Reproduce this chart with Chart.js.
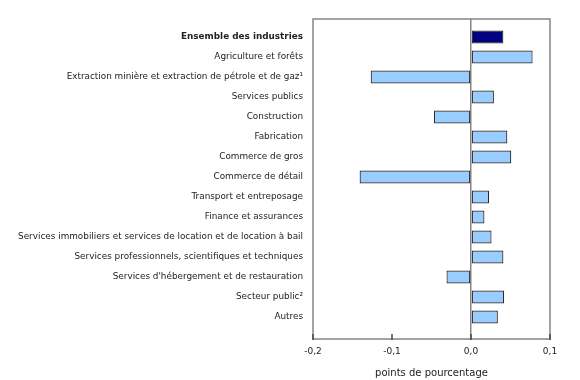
<!DOCTYPE html>
<html>
<head>
<meta charset="utf-8">
<script src="https://cdn.jsdelivr.net/npm/chart.js@4/dist/chart.umd.min.js"></script>
<style>
html, body { margin: 0; padding: 0; background: #fff; }
</style>
</head>
<body>
<canvas id="chart" width="580" height="380"></canvas>
<script>
// Data
const industries = [
    'Ensemble des industries',
    'Agriculture et forêts',
    'Extraction minière et extraction de pétrole et de gaz¹',
    'Services publics',
    'Construction',
    'Fabrication',
    'Commerce de gros',
    'Commerce de détail',
    'Transport et entreposage',
    'Finance et assurances',
    'Services immobiliers et services de location et de location à bail',
    'Services professionnels, scientifiques et techniques',
    "Services d'hébergement et de restauration",
    'Secteur public²',
    'Autres'
];
const changes = [0.041, 0.078, -0.127, 0.029, -0.047, 0.046, 0.051, -0.141, 0.023, 0.017, 0.026, 0.041, -0.031, 0.042, 0.034];
const xTicks = [-0.2, -0.1, 0.0, 0.1];
const axisTitle = 'points de pourcentage';

const FONT = 'DejaVu Sans, Verdana, sans-serif';

// grey frame around the plot plus small tick marks on the bottom edge
const framePlugin = {
    id: 'frame',
    beforeDatasetsDraw(chart) {
        const { ctx, chartArea: a } = chart;
        ctx.save();
        ctx.strokeStyle = '#858585';
        ctx.lineWidth = 1.5;
        ctx.strokeRect(a.left, a.top, a.right - a.left, a.bottom - a.top);
        ctx.restore();
    },
    afterDatasetsDraw(chart) {
        const { ctx, chartArea: a } = chart;
        const xs = chart.scales.x;
        ctx.save();
        ctx.strokeStyle = '#444';
        ctx.lineWidth = 1.5;
        xs.ticks.forEach(t => {
            const px = xs.getPixelForValue(t.value);
            ctx.beginPath();
            ctx.moveTo(px, a.bottom - 5);
            ctx.lineTo(px, a.bottom + 1);
            ctx.stroke();
        });
        ctx.restore();
    }
};

function initializeChart() {
    const ctx = document.getElementById('chart').getContext('2d');
    new Chart(ctx, {
        type: 'bar',
        data: {
            datasets: [{
                data: changes.map((v, i) => ({ x: v, y: i })),
                backgroundColor: changes.map((v, i) => i === 0 ? '#000080' : '#99ccff'),
                borderColor: '#2a2a2a',
                borderWidth: 1.2,
                borderSkipped: false,
                categoryPercentage: 1,
                barPercentage: 0.65
            }]
        },
        options: {
            indexAxis: 'y',
            responsive: false,
            animation: false,
            layout: {
                padding: { top: 19, right: 30, left: 0, bottom: 0 }
            },
            plugins: {
                legend: { display: false },
                tooltip: { enabled: false }
            },
            scales: {
                x: {
                    type: 'linear',
                    min: -0.2,
                    max: 0.1,
                    afterBuildTicks: scale => {
                        scale.ticks = xTicks.map(v => ({ value: v }));
                    },
                    afterFit: scale => { scale.height = 41; },
                    grid: {
                        drawTicks: false,
                        lineWidth: 1.5,
                        color: c => (c.tick && c.tick.value === 0) ? '#858585' : 'rgba(0,0,0,0)'
                    },
                    border: { display: false },
                    ticks: {
                        padding: 7,
                        color: '#222',
                        font: { family: FONT, size: 9 },
                        callback: v => v.toFixed(1).replace('.', ',').replace('-0,0', '0,0')
                    },
                    title: {
                        display: true,
                        text: axisTitle,
                        color: '#222',
                        font: { family: FONT, size: 10 },
                        padding: { top: 0, bottom: 1 }
                    }
                },
                y: {
                    type: 'linear',
                    reverse: true,
                    offset: false,
                    min: -0.9,
                    max: 15.1,
                    afterBuildTicks: scale => {
                        scale.ticks = industries.map((n, i) => ({ value: i }));
                    },
                    afterFit: scale => { scale.width = 313; },
                    grid: { display: false, drawTicks: false },
                    border: { display: false },
                    ticks: {
                        autoSkip: false,
                        padding: 10,
                        color: '#222',
                        font: c => ({ family: FONT, size: 8.85, weight: c.index === 0 ? 'bold' : 'normal' }),
                        callback: v => industries[v]
                    }
                }
            }
        },
        plugins: [framePlugin]
    });
}

document.addEventListener('DOMContentLoaded', initializeChart);
</script>
</body>
</html>
